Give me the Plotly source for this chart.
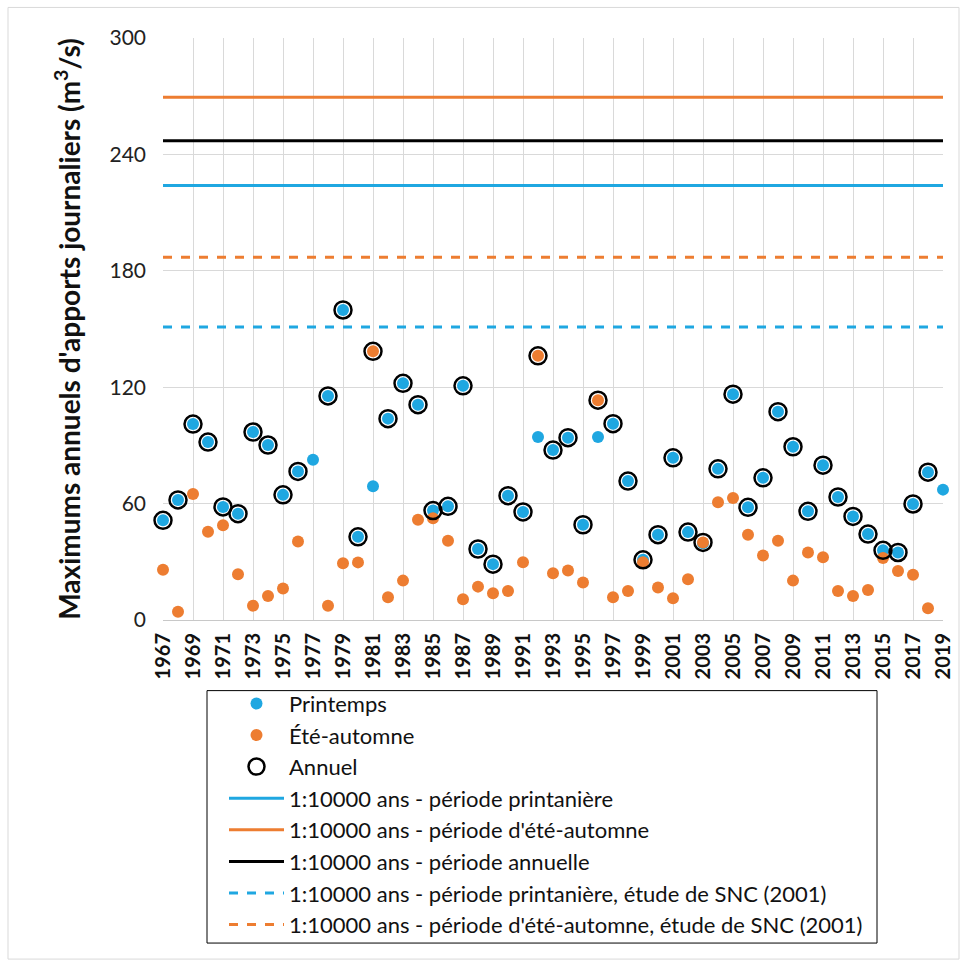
import plotly.graph_objects as go

years = list(range(1967, 2020))

printemps = [51.4, 61.9, 101, 91.7, 58.3, 54.8, 96.9, 90.2, 64.5, 76.6,
             82.6, 115.5, 159.8, 42.9, 69, 103.8, 122, 111, 56.4, 58.6,
             120.7, 36.6, 28.8, 64.1, 55.7, 94.3, 87.6, 94, 49.1, 94.3,
             101.2, 71.6, 31, 44, 83.6, 45.3, 39.5, 77.9, 116.4, 58.1,
             73.3, 107.4, 89.3, 56, 79.8, 63.4, 53.4, 44.3, 35.9, 34.8,
             59.8, 76.2, 67.2]

ete_automne = [25.9, 4.3, 65, 45.5, 48.8, 23.6, 7.4, 12.4, 16.2, 40.5,
               None, 7.4, 29.3, 29.7, 138.5, 11.7, 20.3, 51.7, 52.4, 40.9,
               10.7, 17.2, 13.8, 15, 29.8, 136.2, 24.1, 25.5, 19.3, 113.3,
               11.7, 15, 29.8, 16.7, 11.2, 21, 40, 60.7, 62.9, 44,
               33.3, 40.9, 20.3, 34.8, 32.4, 15, 12.4, 15.5, 31.9, 25.3,
               23.3, 6, None]

annuel = [51.4, 61.9, 101, 91.7, 58.3, 54.8, 96.9, 90.2, 64.5, 76.6,
          None, 115.5, 159.8, 42.9, 138.5, 103.8, 122, 111, 56.4, 58.6,
          120.7, 36.6, 28.8, 64.1, 55.7, 136.2, 87.6, 94, 49.1, 113.3,
          101.2, 71.6, 31, 44, 83.6, 45.3, 40, 77.9, 116.4, 58.1,
          73.3, 107.4, 89.3, 56, 79.8, 63.4, 53.4, 44.3, 35.9, 34.8,
          59.8, 76.2, None]

ref_names = ["1:10000 ans - période printanière",
             "1:10000 ans - période d'été-automne",
             "1:10000 ans - période annuelle",
             "1:10000 ans - période printanière, étude de SNC (2001)",
             "1:10000 ans - période d'été-automne, étude de SNC (2001)"]
ref_values = [224, 269.5, 247, 151, 187]

x_span = [1967, 2019]
tick_years = list(range(1967, 2020, 2))

BLUE = "#1fa7e1"
ORANGE = "#ed7d31"

fig = go.Figure()

fig.add_trace(go.Scatter(x=years, y=printemps, mode="markers", name="Printemps",
                         marker=dict(color=BLUE, size=12), cliponaxis=False,
                         legendgroup="a"))
fig.add_trace(go.Scatter(x=years, y=ete_automne, mode="markers", name="Été-automne",
                         marker=dict(color=ORANGE, size=12), cliponaxis=False,
                         legendgroup="b"))
fig.add_trace(go.Scatter(x=years, y=annuel, mode="markers", name="Annuel",
                         marker=dict(symbol="circle-open", color="black", size=17,
                                     line=dict(width=2.5, color="black")),
                         cliponaxis=False, legendgroup="c"))

styles = [(BLUE, "solid"), (ORANGE, "solid"), ("black", "solid"),
          (BLUE, "dash"), (ORANGE, "dash")]
for i, (nm, v) in enumerate(zip(ref_names, ref_values)):
    col, dash = styles[i]
    fig.add_trace(go.Scatter(x=x_span, y=[v, v], mode="lines", name=nm,
                             line=dict(color=col, width=3, dash=dash),
                             legendgroup="l%d" % i))

PW, PH, X0, Y0 = 780, 581, 163, 619.5  # plot-area pixel geometry


def px(x):
    return (x - X0) / PW


def py(y):
    return (Y0 - y) / PH


fig.update_layout(
    width=967, height=966,
    margin=dict(l=163, r=24, t=38, b=346),
    paper_bgcolor="white", plot_bgcolor="white",
    font=dict(family="Lato", color="#222"),
    showlegend=True,
    legend=dict(x=px(224), y=py(682), xanchor="left", yanchor="top",
                bgcolor="rgba(0,0,0,0)", borderwidth=0,
                font=dict(size=22, color="#111", family="Lato"),
                tracegroupgap=0, traceorder="grouped", itemwidth=55),
    xaxis=dict(range=x_span, tickmode="array", tickvals=tick_years,
               ticktext=[f"<b>{y}</b>" for y in tick_years],
               tickangle=-90, tickfont=dict(size=20, color="#111"),
               showgrid=True, gridcolor="#d9d9d9", gridwidth=1,
               showline=True, linecolor="#c8c8c8", zeroline=False,
               ticks="", ticklabelstandoff=4),
    yaxis=dict(range=[0, 300], tickmode="array", tickvals=[0, 60, 120, 180, 240, 300],
               tickfont=dict(size=21, color="#222"),
               showgrid=True, gridcolor="#d9d9d9", gridwidth=1,
               zeroline=False, showline=False, ticks="", ticklen=0,
               ticklabelstandoff=16,
               title=dict(text="<b>Maximums annuels d'apports journaliers (m<sup>3</sup>/s)</b>",
                          font=dict(size=28, color="#111"), standoff=20)),
    shapes=[dict(type="rect", xref="paper", yref="paper",
                 x0=px(8), x1=px(959), y0=py(958), y1=py(8),
                 line=dict(color="#d9d9d9", width=1), layer="below"),
            dict(type="rect", xref="paper", yref="paper",
                 x0=px(207), x1=px(877), y0=py(942), y1=py(690),
                 line=dict(color="black", width=1), fillcolor="white",
                 layer="below")]
)

fig.write_html("out.html")
